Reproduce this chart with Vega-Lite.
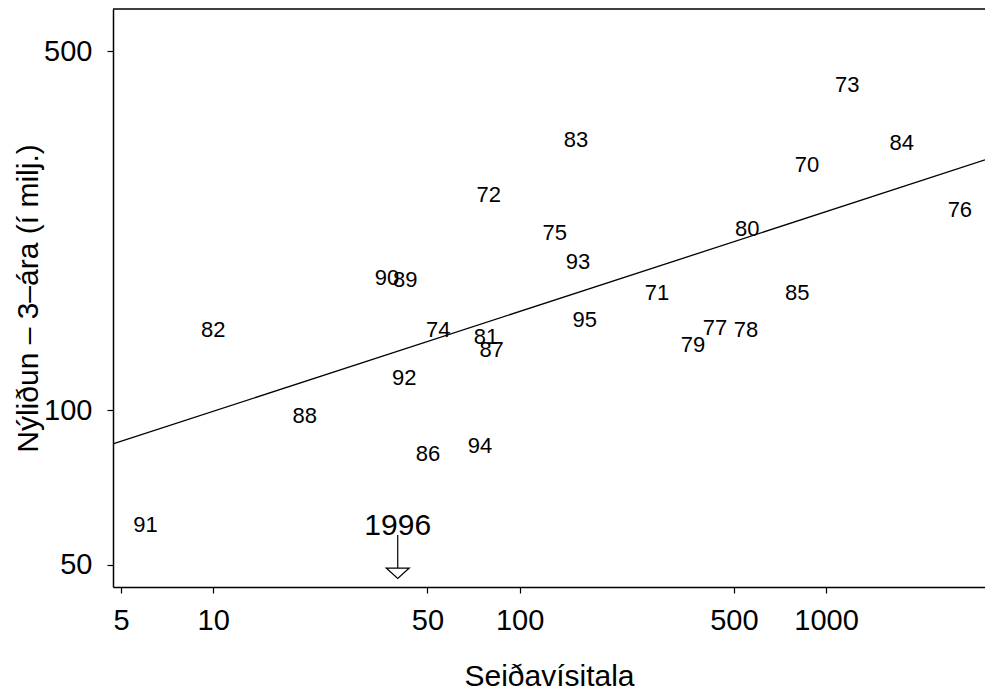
{
  "$schema": "https://vega.github.io/schema/vega-lite/v6.json",
  "width": 872,
  "height": 578,
  "autosize": {"type": "none"},
  "padding": {"left": 113, "top": 9, "right": 0, "bottom": 104},
  "background": "white",
  "config": {
    "view": {"stroke": null},
    "font": "Liberation Sans",
    "axis": {
      "grid": false,
      "domainColor": "black",
      "domainWidth": 1.5,
      "tickColor": "black",
      "tickWidth": 1.2,
      "tickSize": 6,
      "labelColor": "black",
      "labelFontSize": 29,
      "labelFont": "Liberation Sans",
      "titleColor": "black",
      "titleFontSize": 30,
      "titleFont": "Liberation Sans",
      "titleFontWeight": "normal"
    }
  },
  "datasets": {
    "points": [
      {"label": "70", "x": 866, "y": 299.6},
      {"label": "71", "x": 280.6, "y": 168.8},
      {"label": "72", "x": 79.2, "y": 261.9},
      {"label": "73", "x": 1173, "y": 429.6},
      {"label": "74", "x": 54.2, "y": 143.0},
      {"label": "75", "x": 130.1, "y": 221.2},
      {"label": "76", "x": 2733, "y": 245.2},
      {"label": "77", "x": 434, "y": 144.3},
      {"label": "78", "x": 547.8, "y": 143.2},
      {"label": "79", "x": 367.8, "y": 134.0},
      {"label": "80", "x": 553.1, "y": 225.5},
      {"label": "81", "x": 77.6, "y": 138.6},
      {"label": "82", "x": 10.0, "y": 143.2},
      {"label": "83", "x": 152.7, "y": 336.0},
      {"label": "84", "x": 1765, "y": 330.6},
      {"label": "85", "x": 805.4, "y": 168.8},
      {"label": "86", "x": 50.2, "y": 82.1},
      {"label": "87", "x": 81.0, "y": 130.7},
      {"label": "88", "x": 19.9, "y": 97.3},
      {"label": "89", "x": 42.3, "y": 179.2},
      {"label": "90", "x": 36.9, "y": 180.8},
      {"label": "91", "x": 6.01, "y": 59.6},
      {"label": "92", "x": 42.0, "y": 115.3},
      {"label": "93", "x": 155.0, "y": 193.9},
      {"label": "94", "x": 74.2, "y": 85.1},
      {"label": "95", "x": 163.0, "y": 149.7}
    ],
    "fit": [{"x": 4.708, "y": 85.9}, {"x": 3301, "y": 306.9}],
    "border": [{"x": 4.708, "y": 603.8}, {"x": 3301, "y": 603.8}],
    "note": [{"x": 40, "y": 57.1, "y2": 49.2, "label": "1996"}],
    "tip": [{"x": 40, "y": 48.1}]
  },
  "encoding": {
    "x": {
      "field": "x",
      "type": "quantitative",
      "scale": {"type": "log", "domain": [4.708, 3301], "nice": false, "zero": false},
      "axis": {
        "title": "Seiðavísitala",
        "values": [5, 10, 50, 100, 500, 1000],
        "format": "d",
        "labelPadding": 13,
        "labelFlush": false,
        "labelOverlap": false,
        "titleY": 98,
        "titleBaseline": "alphabetic"
      }
    },
    "y": {
      "field": "y",
      "type": "quantitative",
      "scale": {"type": "log", "domain": [45.22, 603.8], "nice": false, "zero": false},
      "axis": {
        "title": "Nýliðun – 3–ára (í milj.)",
        "values": [50, 100, 500],
        "format": "d",
        "labelPadding": 15,
        "labelFlush": false,
        "labelOverlap": false,
        "titleX": -76,
        "titleY": 289,
        "titleAngle": -90,
        "titleAlign": "center",
        "titleBaseline": "alphabetic"
      }
    }
  },
  "layer": [
    {
      "data": {"name": "border"},
      "mark": {"type": "line", "color": "black", "strokeWidth": 1.5, "clip": false}
    },
    {
      "data": {"name": "fit"},
      "mark": {"type": "line", "color": "black", "strokeWidth": 1.3}
    },
    {
      "data": {"name": "points"},
      "mark": {"type": "text", "fontSize": 22, "align": "center", "baseline": "middle", "color": "black"},
      "encoding": {"text": {"field": "label", "type": "nominal"}}
    },
    {
      "data": {"name": "note"},
      "mark": {"type": "text", "fontSize": 30, "align": "center", "baseline": "alphabetic", "color": "black"},
      "encoding": {"text": {"field": "label", "type": "nominal"}}
    },
    {
      "data": {"name": "note"},
      "mark": {"type": "rule", "color": "black", "strokeWidth": 1.2},
      "encoding": {"y2": {"field": "y2"}}
    },
    {
      "data": {"name": "tip"},
      "mark": {
        "type": "point",
        "shape": "M-1,-0.45L1,-0.45L0,0.45Z",
        "size": 529,
        "filled": true,
        "fill": "white",
        "stroke": "black",
        "strokeWidth": 1.2,
        "opacity": 1
      }
    }
  ]
}
